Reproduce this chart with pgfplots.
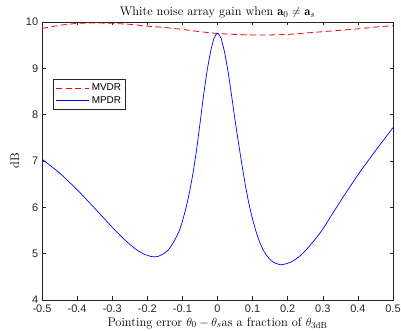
\documentclass[border=0pt]{standalone}
\usepackage{fontspec}
\setsansfont{Liberation Sans}
\usepackage{pgfplots}
\pgfplotsset{compat=1.18}
\definecolor{axgray}{rgb}{0.15,0.15,0.15}
\begin{document}
\begin{tikzpicture}
\begin{axis}[
  scale only axis,
  width=351bp, height=278bp,
  xmin=-0.5, xmax=0.5, ymin=4, ymax=10,
  xtick={-0.5,-0.4,...,0.5},
  ytick={4,5,...,10},
  xticklabels={-0.5,-0.4,-0.3,-0.2,-0.1,0,0.1,0.2,0.3,0.4,0.5},
  yticklabels={4,5,6,7,8,9,10},
  tick align=inside,
  major tick length=3.5bp,
  axis line style={axgray, line width=0.5pt},
  every tick/.style={axgray, line width=0.5pt},
  tick label style={font=\sffamily\fontsize{11}{12}\selectfont, text=axgray, inner sep=1bp},
  xticklabel style={yshift=-4.2bp},
  yticklabel style={xshift=-2.7bp},
  title={White noise array gain when $\mathbf{a}_0 \neq \mathbf{a}_s$},
  title style={font=\fontsize{12.5}{14}\selectfont, at={(axis description cs:0.5,1.0)}, anchor=base},
  xlabel={Pointing error $\theta_0 - \theta_s$as a fraction of $\theta_{\mathrm{3dB}}$},
  xlabel style={font=\fontsize{12.5}{14}\selectfont, at={(axis description cs:0.5,-0.083)}, anchor=center},
  ylabel={dB},
  ylabel style={font=\fontsize{12.5}{14}\selectfont, at={(axis description cs:-0.077,0.5)}, anchor=center},
  legend style={at={(axis description cs:0.032,0.794)}, anchor=north west, font=\sffamily\fontsize{10}{11}\selectfont, draw=axgray, line width=0.5pt, inner sep=2.5pt, row sep=0pt, cells={anchor=west}},
  legend image code/.code={\draw[#1] (0bp,0bp) -- (33bp,0bp);},
]
\addplot[red, line width=0.8pt, dash pattern=on 6bp off 3.5bp] coordinates {
(-0.5,9.86) (-0.45,9.93) (-0.4,9.97) (-0.35,9.98) (-0.3,9.97) (-0.25,9.95)
(-0.2,9.91) (-0.15,9.88) (-0.1,9.84) (-0.05,9.79) (0,9.75) (0.05,9.73)
(0.1,9.72) (0.15,9.72) (0.2,9.73) (0.25,9.76) (0.3,9.79) (0.35,9.82)
(0.4,9.85) (0.45,9.89) (0.5,9.92)
};
\addlegendentry{MVDR}
\addplot[blue, line width=0.7pt, smooth, tension=0.3] coordinates {
(-0.5,7.04) (-0.45,6.74) (-0.4,6.38) (-0.35,5.98) (-0.3,5.57) (-0.27,5.34)
(-0.25,5.20) (-0.23,5.08) (-0.21,4.99) (-0.19,4.94) (-0.18,4.93) (-0.17,4.94)
(-0.155,4.99) (-0.14,5.08) (-0.125,5.25) (-0.11,5.47) (-0.1,5.70) (-0.09,5.98)
(-0.08,6.32) (-0.07,6.73) (-0.06,7.22) (-0.05,7.80) (-0.04,8.40) (-0.03,8.93)
(-0.02,9.35) (-0.01,9.65) (0,9.76) (0.01,9.65) (0.02,9.35) (0.03,8.93)
(0.04,8.42) (0.05,7.88) (0.06,7.38) (0.07,6.90) (0.08,6.45) (0.09,6.06)
(0.10,5.74) (0.11,5.47) (0.12,5.25) (0.13,5.08) (0.14,4.96) (0.15,4.87)
(0.16,4.81) (0.17,4.78) (0.18,4.76) (0.19,4.77) (0.21,4.82) (0.23,4.92)
(0.25,5.06) (0.275,5.28) (0.3,5.53) (0.35,6.13) (0.4,6.70) (0.45,7.22) (0.5,7.72)
};
\addlegendentry{MPDR}
\coordinate (bbA) at (rel axis cs:-0.1197,-0.1115);
\coordinate (bbB) at (rel axis cs:1.0228,1.079);
\end{axis}
\pgfresetboundingbox
\useasboundingbox (bbA) rectangle (bbB);
\end{tikzpicture}
\end{document}
